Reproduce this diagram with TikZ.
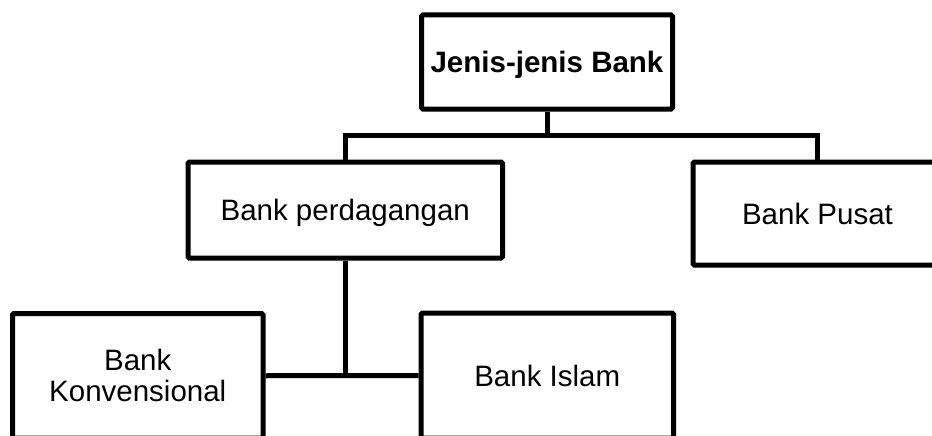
\documentclass[tikz,border=0pt]{standalone}
\usepackage{fontspec}
\setmainfont{Liberation Sans}
\begin{document}
\begin{tikzpicture}[x=1pt,y=-1pt,
  box/.style={draw=black, line width=5pt, rounded corners=1.5pt, fill=white,
    inner sep=0pt, font=\fontsize{29.5}{31}\selectfont},
  oneline/.style={text height=21pt, text depth=0pt},
  link/.style={draw=black, line width=5pt}]
\useasboundingbox (0,0) rectangle (932,436);
\clip (0,0) rectangle (932,436);

% boxes of the chart
\node[box, oneline, minimum width=251pt, minimum height=94pt, font=\fontsize{29.5}{31}\selectfont\bfseries]
  (jenis) at (547,62) {Jenis-jenis Bank};
\node[box, oneline, minimum width=314.5pt, minimum height=96pt]
  (dagang) at (345.25,210) {Bank perdagangan};
\node[box, oneline, minimum width=249pt, minimum height=103pt]
  (pusat) at (817.5,213.5) {Bank Pusat};
\node[box, align=center, minimum width=250.5pt, minimum height=124.5pt]
  (konv) at (137.75,375.75) {Bank\\Konvensional};
\node[box, oneline, minimum width=252.5pt, minimum height=125pt]
  (islam) at (547.25,375.5) {Bank Islam};

% connectors
\coordinate (bus) at (547,135);
\draw[link] (jenis.south) -- (bus);
\draw[link] (dagang.north) |- (bus) -| (pusat.north);
\draw[link] (konv.east) -- (islam.west);
\draw[link] (dagang.south) -- (dagang.south |- konv.east);
\end{tikzpicture}
\end{document}
